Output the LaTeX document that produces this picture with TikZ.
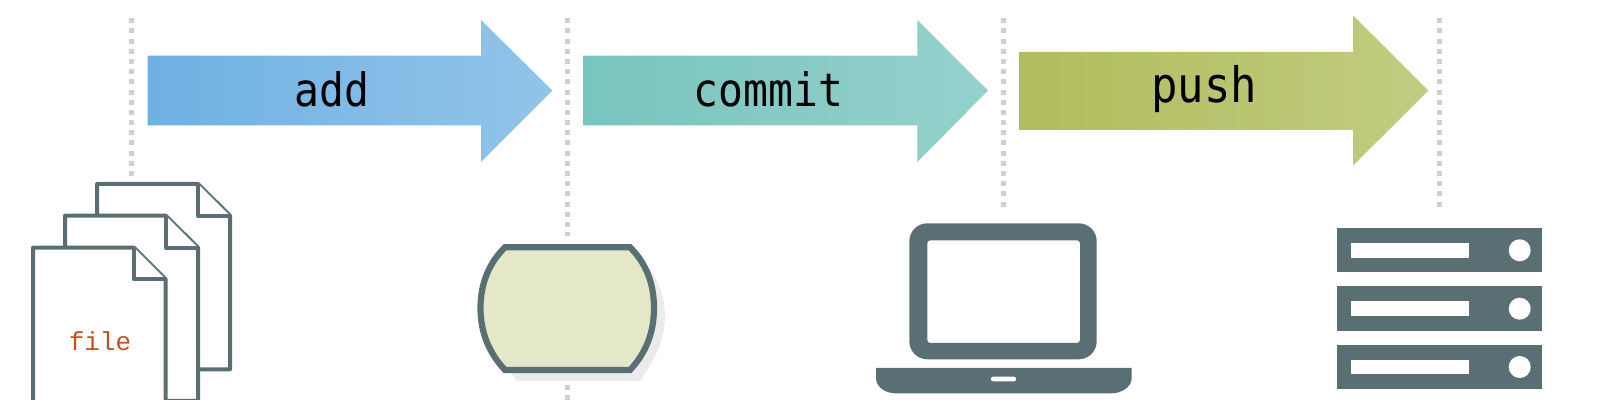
\documentclass[tikz,border=0pt]{standalone}
\usepackage{fontspec}
\newfontfamily\labelfont[FakeStretch=0.9]{DejaVu Sans Mono}
\newfontfamily\filefont{Liberation Mono}
\definecolor{dark}{HTML}{5A6F73}
\definecolor{dotc}{HTML}{C9D2D0}
\definecolor{stonefill}{HTML}{E4E8C9}
\definecolor{shadowc}{HTML}{EBEBEB}
\definecolor{filec}{HTML}{C8501E}
\definecolor{addA}{HTML}{6FB1E2}
\definecolor{addB}{HTML}{92C4EA}
\definecolor{comA}{HTML}{78C4BE}
\definecolor{comB}{HTML}{95D1CC}
\definecolor{pushA}{HTML}{B0BC5C}
\definecolor{pushB}{HTML}{C2CC80}
\tikzset{
  guide/.style={line width=2.5pt,dotc,dash pattern=on 2.5pt off 2.59pt},
  pagebox/.style={draw=dark,fill=white,line width=2pt,line join=round},
  arrowlabel/.style={anchor=base,inner sep=0pt,text=black,font=\labelfont\fontsize{23}{28}\selectfont},
  pushlabel/.style={arrowlabel,font=\labelfont\fontsize{24.4}{30}\selectfont},
  darkfill/.style={fill=dark,draw=none},
  holefill/.style={fill=white,draw=none},
}
\begin{document}
\begin{tikzpicture}[x=0.5pt,y=-0.5pt]
\useasboundingbox (0,0) rectangle (1600,400);
\clip (0,0) rectangle (1600,400);
% guides
\coordinate (g1a) at (131.7,18.3); \coordinate (g1b) at (131.7,176);
\coordinate (g2a) at (567.3,18.3); \coordinate (g2b) at (567.3,236);
\coordinate (g2c) at (567.3,385); \coordinate (g2d) at (567.3,402);
\coordinate (g3a) at (1003.3,18.3); \coordinate (g3b) at (1003.3,207);
\coordinate (g4a) at (1439.5,18.3); \coordinate (g4b) at (1439.5,207);
\draw[guide] (g1a) -- (g1b);
\draw[guide] (g2a) -- (g2b);
\draw[guide] (g2c) -- (g2d);
\draw[guide] (g3a) -- (g3b);
\draw[guide] (g4a) -- (g4b);
% arrows
\shade[left color=addA,right color=addB]
  (147.7,55.7) -- (481,55.7) -- (481,20) -- (552.3,90.5) -- (481,162) -- (481,125.5) -- (147.7,125.5) -- cycle;
\shade[left color=comA,right color=comB]
  (583,55.7) -- (917.3,55.7) -- (917.3,20) -- (988,90.5) -- (917.3,162) -- (917.3,125.5) -- (583,125.5) -- cycle;
\shade[left color=pushA,right color=pushB]
  (1019,52) -- (1353,52) -- (1353,15.3) -- (1428.3,90.5) -- (1353,165.7) -- (1353,130) -- (1019,130) -- cycle;
\node[arrowlabel] (add) at (332,106.7) {add};
\node[arrowlabel] (commit) at (768.3,106.7) {commit};
\node[pushlabel] (push) at (1204,102.3) {push};
% files
\draw[pagebox] (97,184) -- (198,184) -- (230,215.7) -- (230,369.3) -- (97,369.3) -- cycle;
\draw[pagebox] (198,184) -- (198,215.7) -- (230,215.7);
\draw[pagebox] (65,215.7) -- (165.7,215.7) -- (198,247.7) -- (198,401) -- (65,401) -- cycle;
\draw[pagebox] (165.7,215.7) -- (165.7,247.7) -- (198,247.7);
\draw[pagebox] (33,247.7) -- (134,247.7) -- (165.7,279.3) -- (165.7,412) -- (33,412) -- cycle;
\draw[pagebox] (134,247.7) -- (134,279.3) -- (165.7,279.3);
\node[anchor=base,inner sep=0pt,text=filec,font=\filefont\fontsize{13}{15}\selectfont] (file) at (100,351) {file};
% stone
\fill[shadowc] (513,255.3) -- (638,255.3) .. controls (653,270) and (665,290) .. (665,316) .. controls (665,342) and (653,362) .. (640,381) -- (517,381) -- (500,358) -- cycle;
\draw[draw=dark,fill=stonefill,line width=3.1pt,line join=miter]
  (505,247.3) -- (630,247.3) .. controls (645,262) and (654,282) .. (654,308)
  .. controls (654,334) and (645,354) .. (630,370) -- (505,370)
  .. controls (490,354) and (480.5,334) .. (480.5,308) .. controls (480.5,282) and (490,262) .. (505,247.3) -- cycle;
% laptop
\fill[darkfill,even odd rule] [rounded corners=9pt] (909.3,223.3) rectangle (1096.7,359.3)
  [rounded corners=1.5pt] (927.3,240.3) rectangle (1080,343);
\fill[darkfill] (876,368) -- (1131.7,368) -- (1131.7,378) .. controls (1131.7,388) and (1120,393.3) .. (1112,393.3)
  -- (895,393.3) .. controls (887,393.3) and (876,388) .. (876,378) -- cycle;
\fill[holefill,rounded corners=1pt] (991,376.7) rectangle (1016,381.3);
% server
\fill[darkfill] (1337.3,228.3) rectangle (1541.7,271.7);
\fill[darkfill] (1337.3,286.3) rectangle (1541.7,330.7);
\fill[darkfill] (1337.3,344.7) rectangle (1541.7,389);
\fill[holefill] (1351.3,243.3) rectangle (1469,257.7);
\fill[holefill] (1351.3,301.3) rectangle (1469,316.3);
\fill[holefill] (1351.3,359.7) rectangle (1469,374.3);
\fill[holefill] (1519.7,250.3) circle (5.5pt);
\fill[holefill] (1519.7,308.7) circle (5.5pt);
\fill[holefill] (1519.7,367) circle (5.5pt);
\end{tikzpicture}
\end{document}
